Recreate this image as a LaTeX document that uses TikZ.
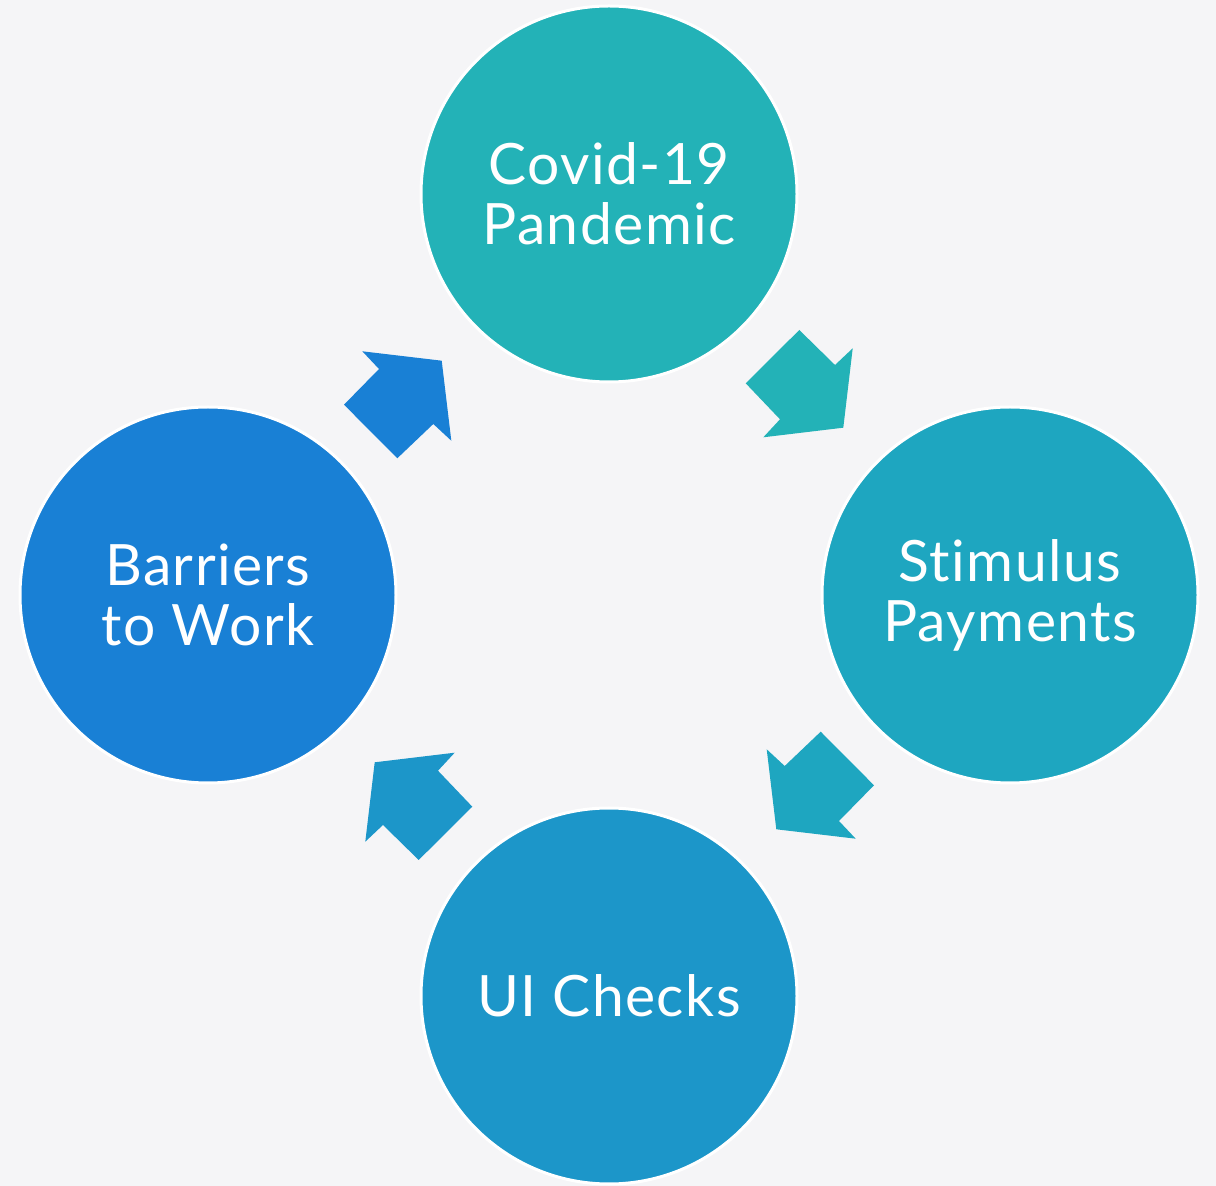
\documentclass[tikz,border=0pt]{standalone}
\usepackage{fontspec}
\setmainfont{Lato}[Ligatures={NoCommon,NoRare,NoContextual},LetterSpace=2.5]
\definecolor{bg}{HTML}{F5F5F7}
\definecolor{cA}{HTML}{23B2B7}
\definecolor{cB}{HTML}{1EA6C0}
\definecolor{cC}{HTML}{1C96C9}
\definecolor{cD}{HTML}{1980D5}
\begin{document}
\begin{tikzpicture}[x=0.5pt,y=-0.5pt,
  bubble/.style={circle,draw=white,line width=1.5pt,minimum size=188pt,inner sep=0pt,
    text=white,font=\fontsize{28.5}{30}\selectfont,align=center}]
\fill[bg] (0,0) rectangle (1216,1186);
\useasboundingbox (0,0) rectangle (1216,1186);
\node[bubble,fill=cA] (covid) at (609,194) {Covid-19\\Pandemic};
\node[bubble,fill=cB] (stim) at (1010,595) {Stimulus\\Payments};
\node[bubble,fill=cC] (ui) at (609,996) {UI Checks};
\node[bubble,fill=cD] (barr) at (208,595) {Barriers\\to Work};
\fill[cA] (799.3,330) -- (835,365) -- (852.7,348.3) -- (843.3,427.7) -- (763.3,437.3) -- (780,419.3) -- (745.7,383.3) -- cycle;
\fill[cB] (874,785.3) -- (839,821) -- (855.7,838.7) -- (776.3,829.3) -- (766.7,749.3) -- (784.7,766) -- (820.7,731.7) -- cycle;
\fill[cC] (418.7,860) -- (383,825) -- (365.3,841.7) -- (374.7,762.3) -- (454.7,752.7) -- (438,770.7) -- (472.3,806.7) -- cycle;
\fill[cD] (344,404.7) -- (379,369) -- (362.3,351.3) -- (441.7,360.7) -- (451.3,440.7) -- (433.3,424) -- (397.3,458.3) -- cycle;
\end{tikzpicture}
\end{document}
